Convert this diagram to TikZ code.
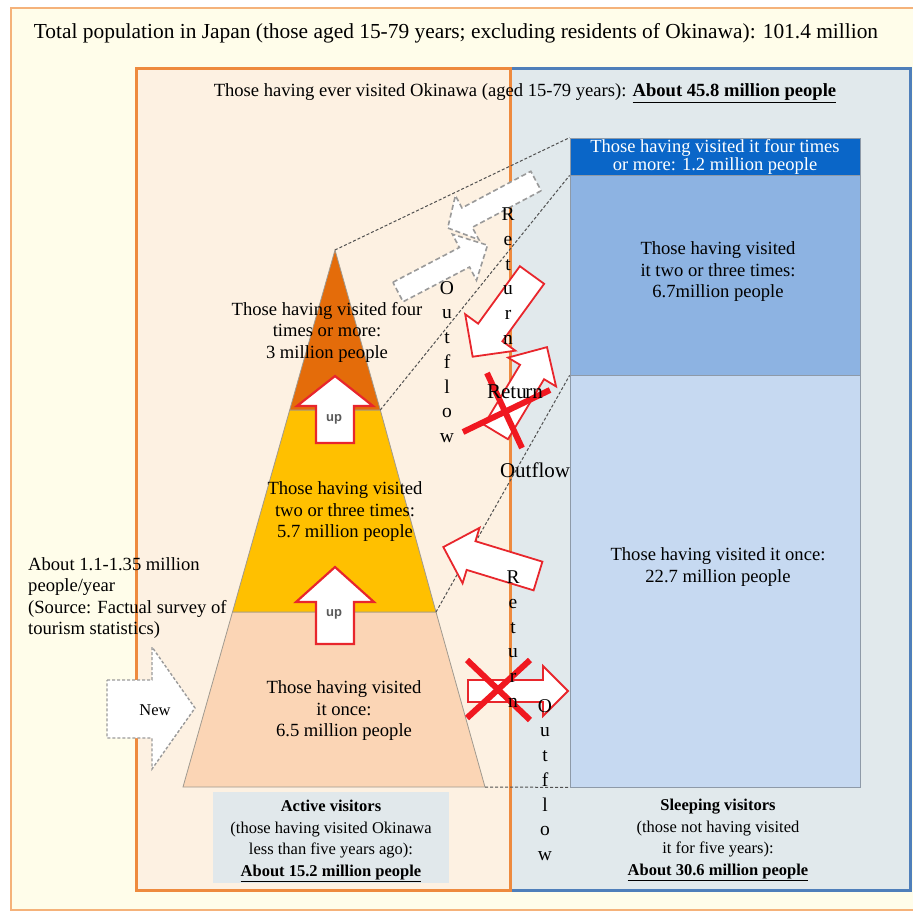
\documentclass[tikz,border=0pt]{standalone}
\usepackage{fontspec}
\setmainfont{Liberation Serif}
\setsansfont{Liberation Sans}
\definecolor{outerbg}{HTML}{FFFDEA}
\definecolor{outerln}{HTML}{F5B27A}
\definecolor{leftbg}{HTML}{FDF1E2}
\definecolor{leftln}{HTML}{EE8A3E}
\definecolor{rightbg}{HTML}{E1E9EC}
\definecolor{rightln}{HTML}{4F7FBA}
\definecolor{labbg}{HTML}{E1E8EB}
\definecolor{dblue}{HTML}{0A66C8}
\definecolor{mblue}{HTML}{8DB3E2}
\definecolor{lblue}{HTML}{C6D9F1}
\definecolor{boxln}{HTML}{8E9AA8}
\definecolor{ptop}{HTML}{E46C0A}
\definecolor{pmid}{HTML}{FFC000}
\definecolor{pbot}{HTML}{FBD5B5}
\definecolor{pline}{HTML}{A09A90}
\definecolor{arrred}{HTML}{E8262C}
\definecolor{xred}{HTML}{F01820}
\definecolor{arrgrey}{HTML}{9A9A9A}
\definecolor{guidegrey}{HTML}{505050}
\definecolor{uptxt}{HTML}{5A5A5A}
\newcommand\blockarr[7]{% style, tail, angle, length, body half, head half, head length
  \begin{scope}[shift={(#2)},rotate=#3]
    \draw[#1] (0,-#5) -- ({#4-#7},-#5) -- ({#4-#7},-#6) -- (#4,0) -- ({#4-#7},#6) -- ({#4-#7},#5) -- (0,#5) -- cycle;
  \end{scope}}
\tikzset{
  txt/.style={font=\fontsize{18.6}{21.5}\selectfont, align=center, inner sep=0pt},
  vtxt/.style={font=\fontsize{19.5}{24.7}\selectfont, align=center, inner sep=0pt},
  htxt/.style={font=\fontsize{21}{24}\selectfont, inner sep=0pt},
  redarrow/.style={draw=arrred, line width=1.8pt, fill=white, line join=miter},
  greyarrow/.style={draw=arrgrey, line width=1.6pt, fill=white, dash pattern=on 5pt off 3pt},
  xmark/.style={draw=xred, line width=6pt},
  guide/.style={draw=guidegrey, line width=1pt, dash pattern=on 3pt off 2pt},
  colbox/.style={draw=boxln, line width=0.8pt, minimum width=290, inner sep=0pt},
  tier/.style={draw=pline, line width=0.8pt},
  uparrow/.style={draw=arrred, line width=2.2pt, fill=white, line join=miter},
  uplabel/.style={font=\sffamily\bfseries\fontsize{13}{13}\selectfont, text=uptxt, inner sep=0pt},
}
\begin{document}
\begin{tikzpicture}[x=1pt,y=-1pt]
\useasboundingbox (0,0) rectangle (913,913);
% outer frame
\draw[outerln, line width=2pt, fill=outerbg] (11,8) rectangle (920,910);
\node[font=\fontsize{21.4}{24}\selectfont, inner sep=0pt] (title) at (456,33)
  {Total population in Japan (those aged 15-79 years; excluding residents of Okinawa): 101.4 million};
% inner boxes
\draw[rightln, line width=3pt, fill=rightbg] (510,68) rectangle (910,890);
\draw[leftln, line width=3pt, fill=leftbg] (136,68) rectangle (510,890);
\node[font=\fontsize{18.6}{20}\selectfont, inner sep=0pt] (ever) at (525,93)
  {Those having ever visited Okinawa (aged 15-79 years): \underline{\textbf{About 45.8 million people}}};
% right column
\node[colbox, fill=dblue, minimum height=37, text=white, align=center, font=\fontsize{18.5}{18}\selectfont] (four) at (715,156.5)
  {Those having visited it four times\\or more: 1.2 million people};
\node[colbox, fill=mblue, minimum height=200] (two) at (715,275) {};
\node[colbox, fill=lblue, minimum height=412] (once) at (715,581) {};
\node[txt] (twotxt) at (718,272) {Those having visited\\it two or three times:\\6.7million people};
\node[txt] (oncetxt) at (718,567) {Those having visited it once:\\22.7 million people};
% pyramid
\coordinate (apex) at (335,250);
\coordinate (t1l) at (289.7,410); \coordinate (t1r) at (380.3,410);
\coordinate (t2l) at (232.5,612); \coordinate (t2r) at (436,612);
\coordinate (bl) at (183,787); \coordinate (br) at (485,787);
\draw[tier, fill=pbot] (t2l) -- (t2r) -- (br) -- (bl) -- cycle;
\draw[tier, fill=pmid] (t1l) -- (t1r) -- (t2r) -- (t2l) -- cycle;
\draw[tier, fill=ptop] (apex) -- (t1r) -- (t1l) -- cycle;
% guide lines
\draw[guide] (apex) -- (four.north west);
\draw[guide] (t1r) -- (four.south west);
\draw[guide] (t2r) -- (two.south west);
\draw[guide] (br) -- (once.south west);
% left label background
\fill[labbg] (213,792) rectangle (449,883);
% up arrows
\draw[uparrow] (335,376) -- (373,406) -- (354,406) -- (354,443) -- (316,443) -- (316,406) -- (297,406) -- cycle;
\node[uplabel] (up1) at (334,419) {up};
\draw[uparrow] (335,567) -- (374,602) -- (354,602) -- (354,644) -- (316,644) -- (316,602) -- (296,602) -- cycle;
\node[uplabel] (up2) at (334,614) {up};
% New arrow
\draw[draw=arrgrey, line width=1.4pt, fill=white, dash pattern=on 3pt off 2pt]
  (107,680) -- (152,680) -- (152,647) -- (195,708) -- (152,769) -- (152,738) -- (107,738) -- cycle;
\node[font=\fontsize{16.5}{18}\selectfont, inner sep=0pt] (new) at (155,710) {New};
\node[font=\fontsize{18.6}{21.5}\selectfont, align=left, anchor=north west, inner sep=0pt] (src) at (28,557)
  {About 1.1-1.35 million\\people/year\\(Source: Factual survey of\\tourism statistics)};
% pyramid texts
\node[txt] (fourtxt) at (327,332) {Those having visited four\\times or more:\\3 million people};
\node[txt] (twotierTxt) at (345,512) {Those having visited\\two or three times:\\5.7 million people};
\node[txt] (oncetierTxt) at (344,711) {Those having visited\\it once:\\6.5 million people};
% grey dashed arrows (4+ tier)
\blockarr{greyarrow}{536,181}{208}{100}{11}{25}{22}
\blockarr{greyarrow}{398,292}{27.6}{101}{11}{26}{26}
% red arrows (upper)
\blockarr{redarrow}{532,275}{234}{101}{15}{31}{30}
\blockarr{redarrow}{496,432}{59}{99}{14}{28}{29}
\draw[xmark] (487,373) -- (522,448);
\draw[xmark] (463,432) -- (550,390);
% red arrows (lower)
\blockarr{redarrow}{538,576}{163}{99}{15}{29}{29}
\blockarr{redarrow}{468,691}{0}{100}{11}{25}{25}
\draw[xmark] (467,660) -- (530,720);
\draw[xmark] (467,718) -- (530,660);
% vertical / flow texts
\node[vtxt] (ret1) at (508,276) {R\\e\\t\\u\\r\\n};
\node[vtxt] (out1) at (447,362) {O\\u\\t\\f\\l\\o\\w};
\node[htxt] (ret1h) at (515,392) {Retu\kern-1.4pt rn};
\node[htxt] (out1h) at (535,470) {Outflow};
\node[vtxt] (ret2) at (513,639) {R\\e\\t\\u\\r\\n};
\node[vtxt] (out2) at (545,780) {O\\u\\t\\f\\l\\o\\w};
% bottom labels
\node[txt, font=\fontsize{16.5}{21.8}\selectfont] (active) at (331,841)
  {\textbf{Active visitors}\\(those having visited Okinawa\\less than five years ago):\\\underline{\textbf{About 15.2 million people}}};
\node[txt, font=\fontsize{16.5}{21.8}\selectfont] (sleep) at (718,840)
  {\textbf{Sleeping visitors}\\(those not having visited\\it for five years):\\\underline{\textbf{About 30.6 million people}}};
\end{tikzpicture}
\end{document}
